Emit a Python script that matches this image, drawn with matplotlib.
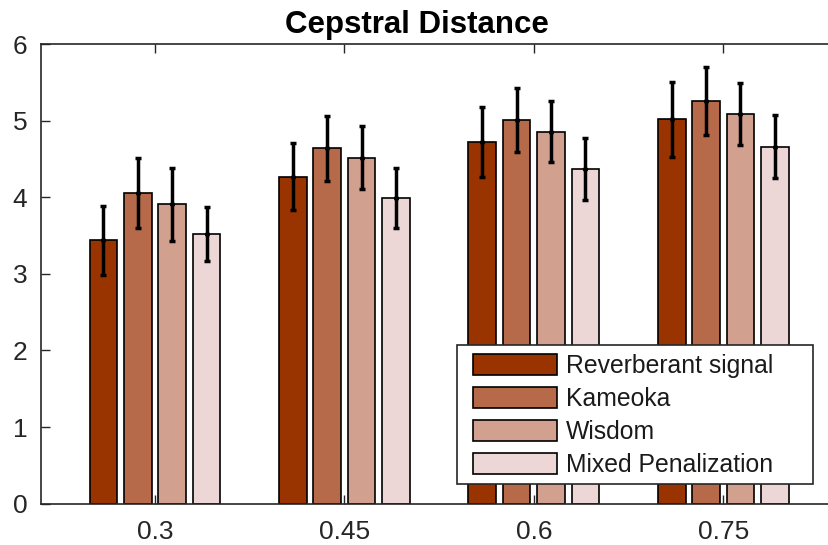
import numpy as np
import matplotlib
matplotlib.use('Agg')
from matplotlib import pyplot as plt
from matplotlib.patches import Rectangle

matplotlib.rcParams['font.family'] = ['Liberation Sans', 'DejaVu Sans']

# data
groups = ['0.3', '0.45', '0.6', '0.75']
series = ['Reverberant signal', 'Kameoka', 'Wisdom', 'Mixed Penalization']
means = [
    [3.44, 4.27, 4.72, 5.02],   # Reverberant signal
    [4.06, 4.64, 5.01, 5.26],   # Kameoka
    [3.91, 4.52, 4.86, 5.09],   # Wisdom
    [3.52, 3.99, 4.37, 4.66],   # Mixed Penalization
]
errs = [
    [0.45, 0.44, 0.46, 0.49],
    [0.46, 0.42, 0.42, 0.44],
    [0.48, 0.41, 0.40, 0.40],
    [0.35, 0.39, 0.40, 0.41],
]
colors = ['#993300', '#B66A4A', '#D2A08F', '#ECD6D6']

axcol = '#262626'
W, H = 829, 545
fig = plt.figure(figsize=(8.29, 5.45), dpi=100)
ax = fig.add_axes([0.0498, 0.076, 0.9598, 0.8427])

x = np.arange(1, len(groups) + 1)
step = 0.1816
width = 0.146
for i in range(len(series)):
    pos = x + (i - 1.5) * step
    ax.bar(pos, means[i], width, color=colors[i], edgecolor='black',
           linewidth=1.2, label=series[i], zorder=2)
    ax.errorbar(pos, means[i], yerr=errs[i], fmt='.', color='black',
                markersize=5.5, elinewidth=2.5, capsize=2.0, capthick=2.5, zorder=3)

ax.set_xlim(0.4, 4.6)
ax.set_ylim(0, 6)
ax.set_xticks(x)
ax.set_xticklabels(groups)
ax.set_yticks(range(0, 7))
ax.tick_params(direction='in', length=6.5, width=1, colors=axcol,
               labelsize=19, top=True, right=True)
ax.tick_params(axis='x', pad=12)
ax.tick_params(axis='y', pad=10)
for s in ax.spines.values():
    s.set_color(axcol)
    s.set_linewidth(1.2)

fig.text(416.5 / W, 1 - 32.7 / H, 'Cepstral Distance', fontsize=22.5,
         fontweight='bold', ha='center', va='baseline')

# legend frame drawn separately (MATLAB-style wide box), x 457..813, y 345..484 px
frame = Rectangle((456.7 / W, 1 - 484.3 / H), 356 / W, 139.3 / H,
                  transform=fig.transFigure, facecolor='white',
                  edgecolor=axcol, linewidth=1.2, zorder=4)
fig.patches.append(frame)

leg = fig.legend(loc='upper left', bbox_to_anchor=(464.5 / W, 1 - 345 / H),
                 borderaxespad=0, fontsize=17.8, handlelength=3.4,
                 handleheight=0.95, handletextpad=0.35, labelspacing=0.36,
                 borderpad=0.35, frameon=False)
leg.set_zorder(5)
for t in leg.get_texts():
    t.set_color('#1a1a1a')

plt.savefig('out.png', dpi=100)
